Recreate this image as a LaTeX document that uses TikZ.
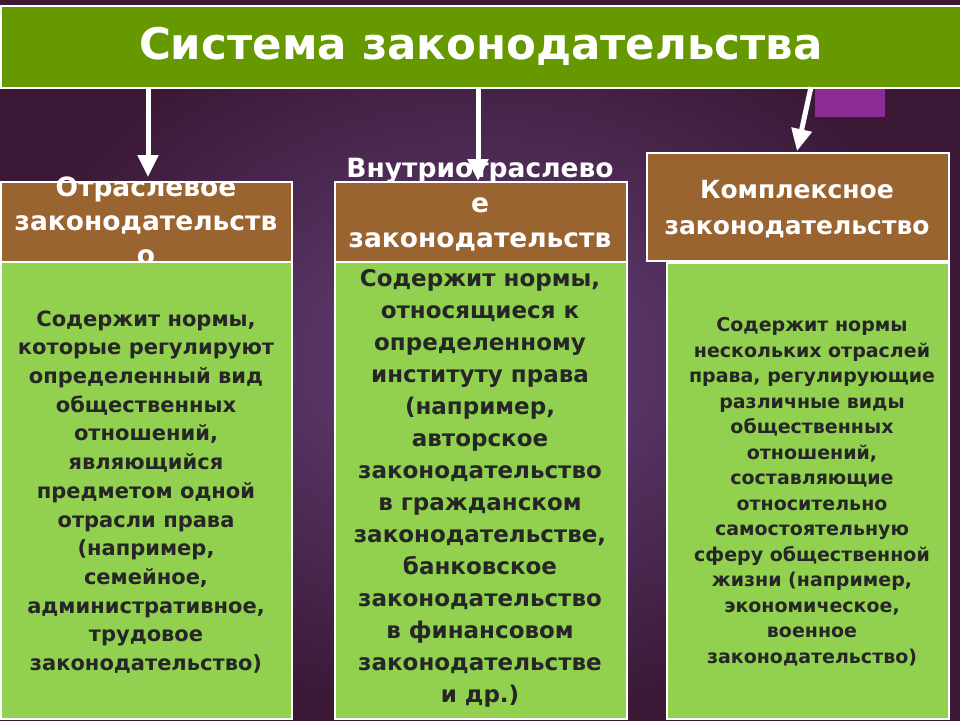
\documentclass[tikz,border=0pt]{standalone}
\usepackage{fontspec}
\setmainfont{DejaVu Sans}
\usetikzlibrary{arrows.meta}
\definecolor{ttl}{HTML}{669900}
\definecolor{brn}{HTML}{9A6431}
\definecolor{lgr}{HTML}{92D050}
\definecolor{mag}{HTML}{8E2C96}
\definecolor{bgin}{HTML}{66427A}
\definecolor{bgout}{HTML}{3A1836}
\tikzset{
  hbox/.style={draw=white,line width=1.5pt,fill=brn,inner sep=0pt},
  gbox/.style={draw=white,line width=1.5pt,fill=lgr,inner sep=0pt},
  btxt/.style={align=center,text=black!85,font=\bfseries},
  arr/.style={white,line width=5pt,-{Triangle[width=20pt,length=22pt]}}
}
\begin{document}
\begin{tikzpicture}[x=1pt,y=-1pt]
\useasboundingbox (0,0) rectangle (960,720);
\shade[inner color=bgin,outer color=bgout] (0,0) rectangle (960,720);
\fill[mag] (815,87) rectangle (885,117);
% title
\node[draw=white,line width=1.5pt,fill=ttl,minimum width=960pt,minimum height=82pt,inner sep=0pt,anchor=north west,text=white,font=\bfseries\fontsize{43.5}{46}\selectfont] (t) at (0,5) {Система законодательства};
% box 1
\node[hbox,minimum width=291pt,minimum height=80pt,anchor=north west] (b1) at (0,181) {};
\node[text=white,font=\bfseries\fontsize{26.5}{34}\selectfont,align=center,anchor=north,inner sep=0pt] (b1t) at (146,177) {Отраслевое\\законодательств\\о};
\node[gbox,minimum width=291pt,minimum height=457pt,anchor=north west] (g1) at (0,261) {};
\node[btxt,font=\bfseries\fontsize{21}{28.7}\selectfont] (g1t) at (146,492) {Содержит нормы,\\которые регулируют\\определенный вид\\общественных\\отношений,\\являющийся\\предметом одной\\отрасли права\\(например,\\семейное,\\административное,\\трудовое\\законодательство)};
% box 2
\node[hbox,minimum width=292pt,minimum height=80pt,anchor=north west] (b2) at (334,181) {};
\node[text=white,font=\bfseries\fontsize{26.5}{35}\selectfont,align=center,anchor=north,inner sep=0pt] (b2t) at (480,158) {Внутриотраслево\\е\\законодательств};
\node[gbox,minimum width=292pt,minimum height=457pt,anchor=north west] (g2) at (334,261) {};
\node[btxt,font=\bfseries\fontsize{23}{32}\selectfont,anchor=north] (g2t) at (480,266) {Содержит нормы,\\относящиеся к\\определенному\\институту права\\(например,\\авторское\\законодательство\\в гражданском\\законодательстве,\\банковское\\законодательство\\в финансовом\\законодательстве\\и др.)};
% box 3
\node[hbox,minimum width=302pt,minimum height=108pt,anchor=north west] (b3) at (646,152) {};
\node[text=white,font=\bfseries\fontsize{25}{36}\selectfont,align=center] (b3t) at (797,209) {Комплексное\\законодательство};
\node[gbox,minimum width=282pt,minimum height=456pt,anchor=north west] (g3) at (666,262) {};
\node[btxt,font=\bfseries\fontsize{19}{25.5}\selectfont] (g3t) at (812,492) {Содержит нормы\\нескольких отраслей\\права, регулирующие\\различные виды\\общественных\\отношений,\\составляющие\\относительно\\самостоятельную\\сферу общественной\\жизни (например,\\экономическое,\\военное\\законодательство)};
% arrows
\coordinate (a1) at (148,87);
\coordinate (a2) at (478,87);
\coordinate (a3) at (811,87);
\coordinate (e1) at (148,177);
\coordinate (e2) at (478,181);
\coordinate (e3) at (797,151);
\draw[arr] (a1) -- (e1);
\draw[arr] (a2) -- (e2);
\draw[arr] (a3) -- (e3);
\end{tikzpicture}
\end{document}
